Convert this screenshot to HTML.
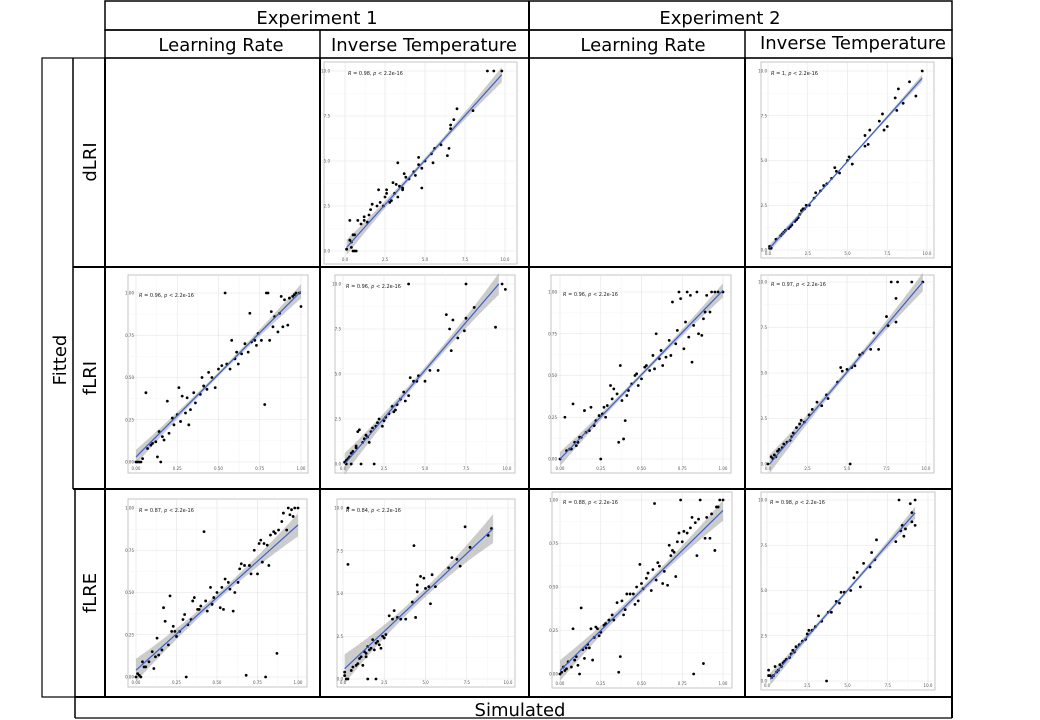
<!DOCTYPE html>
<html><head><meta charset="utf-8">
<style>
html,body{margin:0;padding:0;background:#fff;}
body{width:1040px;height:720px;overflow:hidden;}
svg{display:block;font-family:"DejaVu Sans","Liberation Sans",sans-serif;}
</style></head>
<body>
<svg id="fig" width="1040" height="720" viewBox="0 0 1040 720" xmlns="http://www.w3.org/2000/svg">
<rect x="0" y="0" width="1040" height="720" fill="#fff"/>
<g id="panels"></g>
<g id="frame" fill="none" stroke="#000">
  <rect x="105" y="1" width="847" height="29" stroke-width="1.5"/>
  <line x1="529" y1="1" x2="529" y2="58" stroke-width="2"/>
  <rect x="105" y="30" width="847" height="28" stroke-width="1.5"/>
  <line x1="320" y1="30" x2="320" y2="58" stroke-width="1.5"/>
  <line x1="745" y1="30" x2="745" y2="58" stroke-width="1.5"/>
  <rect x="42" y="58" width="910" height="639" stroke-width="1.2"/>
  <line x1="73" y1="58" x2="73" y2="489" stroke-width="1.5"/>
  <line x1="75" y1="489" x2="75" y2="718" stroke-width="1.5"/>
  <line x1="105" y1="58" x2="105" y2="697" stroke-width="2"/>
  <line x1="320" y1="58" x2="320" y2="697" stroke-width="2"/>
  <line x1="529" y1="58" x2="529" y2="697" stroke-width="2"/>
  <line x1="745" y1="58" x2="745" y2="697" stroke-width="2"/>
  <line x1="952" y1="58" x2="952" y2="718" stroke-width="2"/>
  <line x1="73" y1="267" x2="952" y2="267" stroke-width="2"/>
  <line x1="73" y1="489" x2="952" y2="489" stroke-width="2"/>
  <line x1="75" y1="697" x2="952" y2="697" stroke-width="2"/>
  <line x1="75" y1="718" x2="952" y2="718" stroke-width="1.2"/>
</g>
<g font-size="18" fill="#000" text-anchor="middle">
  <text x="317" y="24">Experiment 1</text>
  <text x="720" y="24">Experiment 2</text>
  <text x="221" y="51">Learning Rate</text>
  <text x="424" y="51">Inverse Temperature</text>
  <text x="643" y="51">Learning Rate</text>
  <text x="853" y="49">Inverse Temperature</text>
  <text transform="translate(96,162) rotate(-90)">dLRI</text>
  <text transform="translate(96,378) rotate(-90)">fLRI</text>
  <text transform="translate(96,593) rotate(-90)">fLRE</text>
  <text transform="translate(66,360) rotate(-90)">Fitted</text>
  <text x="520" y="716">Simulated</text>
</g>
</svg>
<script>
// ---- data (simulated x, fitted y) ----
const ptsA_x=[0.1,0.3,0.4,0.5,0.6,0.7,0.3,0.5,0.6,0.8,1.0,1.2,1.2,1.4,1.5,1.6,1.7,2.1,2.4,2.5,2.6,2.6,2.8,2.9,3.0,3.1,3.2,3.3,3.4,3.6,3.6,3.7,3.8,4.0,4.3,4.4,4.6,4.6,4.8,4.8,5.0,5.4,5.5,5.6,6.0,6.4,6.5,6.6,6.6,6.8,7.0,8.0,8.9,9.3,9.8,3.3,2.2,2.0,0.4];
const ptsA_y=[0.1,0.6,0.2,0,0,0,1.7,0.9,0.9,1.7,1.5,1.7,1.9,1.6,2.0,2.3,2.6,3.4,2.5,3.0,3.4,3.2,2.7,2.8,3.8,3.2,3.7,3.0,3.6,3.5,3.4,4.3,4.1,4.0,4.4,4.2,4.8,5.2,3.5,4.6,5.0,5.4,4.9,5.7,5.9,5.3,5.7,7.0,6.8,7.3,7.9,7.8,10,10,10,4.9,2.7,2.5,0.5];
const ptsB_x=[0.1,0.1,0.2,0.5,0.8,0.9,1.0,1.1,1.3,1.4,1.5,1.7,1.8,1.9,2.0,2.1,2.2,2.3,2.4,2.6,2.9,3.0,3.3,3.5,3.7,4.0,4.2,4.3,4.5,5.0,5.1,5.3,6.1,6.1,6.3,6.4,7.0,7.2,7.3,7.5,8.0,8.1,8.2,8.5,8.9,9.3,9.7];
const ptsB_y=[0.2,0.1,0.1,0.6,0.8,0.9,1.0,1.1,1.2,1.3,1.4,1.6,1.7,1.8,2.0,2.2,2.3,2.3,2.5,2.5,2.9,3.2,3.3,3.6,3.7,4.0,4.6,4.4,4.3,5.0,5.2,4.8,5.8,6.4,5.9,6.7,7.2,7.6,6.7,6.9,8.5,7.8,9.0,8.2,9.4,8.6,10];
const ptsC_x=[0,0.01,0.02,0.03,0.04,0.06,0.07,0.09,0.1,0.12,0.13,0.14,0.15,0.16,0.17,0.19,0.2,0.22,0.23,0.25,0.26,0.27,0.28,0.3,0.31,0.32,0.33,0.35,0.36,0.39,0.4,0.41,0.43,0.44,0.46,0.48,0.5,0.52,0.54,0.55,0.57,0.58,0.6,0.61,0.62,0.64,0.66,0.68,0.69,0.7,0.72,0.73,0.74,0.76,0.78,0.79,0.8,0.81,0.82,0.83,0.84,0.86,0.87,0.88,0.89,0.9,0.92,0.93,0.95,0.96,0.97,0.99,1.0];
const ptsC_y=[0,0,0,0,0.02,0.41,0.08,0.1,0.11,0.12,0.03,0.18,0,0.15,0.13,0.36,0.17,0.26,0.22,0.28,0.44,0.24,0.39,0.29,0.38,0.22,0.31,0.41,0.35,0.4,0.5,0.45,0.43,0.53,0.5,0.44,0.55,0.57,1.0,0.58,0.55,0.72,0.61,0.65,0.58,0.64,0.7,0.65,0.88,0.71,0.72,0.69,0.76,0.72,0.34,1.0,1.0,0.72,0.89,0.8,0.86,0.77,0.88,0.98,0.8,0.96,0.81,0.97,0.98,0.99,1.0,1.0,0.92];
const ptsD_x=[0.1,0.2,0.3,0.4,0.5,0.6,0.5,0.2,0.8,0.8,0.9,1.1,1.0,1.2,1.3,1.4,1.5,1.6,1.7,1.8,1.9,2.0,2.1,2.2,2.4,2.5,2.6,2.8,3.0,3.1,3.2,3.3,3.5,3.7,3.8,4.0,4.1,4.3,4.5,4.6,5.0,5.3,5.8,4.0,6.3,6.5,6.6,6.7,7.0,7.4,7.5,7.5,8.0,9.3,9.7,9.9];
const ptsD_y=[0.1,0.2,0.3,0.4,0.6,0.7,0.0,0,0.9,1.0,1.8,0,1.9,1.2,1.4,1.6,1.5,1.2,1.8,2.0,0,2.1,2.3,2.5,2.1,2.4,2.6,2.8,3.2,2.9,3.0,3.3,3.6,4.0,3.5,3.8,4.8,4.6,4.6,4.9,4.6,5.2,5.2,10,8.3,7.5,6.3,8.0,7.0,7.4,10,8.1,8.7,7.6,10,9.7];
const ptsE_x=[0,0.03,0.04,0.06,0.07,0.08,0.09,0.1,0.11,0.12,0.13,0.15,0.16,0.18,0.19,0.21,0.22,0.24,0.25,0.26,0.27,0.28,0.29,0.31,0.32,0.33,0.35,0.36,0.37,0.38,0.39,0.4,0.41,0.42,0.44,0.46,0.47,0.48,0.5,0.52,0.53,0.55,0.57,0.58,0.59,0.61,0.62,0.63,0.65,0.67,0.68,0.69,0.71,0.72,0.73,0.74,0.76,0.77,0.78,0.79,0.8,0.81,0.82,0.84,0.85,0.87,0.88,0.89,0.9,0.92,0.93,0.95,0.97,1.0];
const ptsE_y=[0,0.25,0.05,0.06,0.06,0.33,0.1,0.08,0.1,0.13,0.13,0.29,0.16,0.17,0.31,0.2,0.23,0.26,0,0.27,0.31,0.25,0.32,0.44,0.36,0.42,0.39,0.1,0.56,0.35,0.12,0.23,0.38,0.41,0.45,0.5,0.51,0.44,0.48,0.55,0.56,0.53,0.62,0.54,0.75,0.6,0.65,0.56,0.61,0.71,0.62,0.94,0.69,0.77,1.0,0.96,0.66,0.82,1.0,0.73,0.98,0.58,0.8,1.0,0.75,0.74,0.84,0.88,0.98,0.88,1.0,1.0,1.0,1.0];
const ptsF_x=[0,0.2,0.3,0.4,0.5,0.6,0.7,0.9,1.0,1.2,1.4,1.5,1.6,1.8,2.0,2.1,2.3,2.6,2.8,3.1,3.4,3.7,3.8,4.4,4.6,4.7,5.0,5.3,5.5,5.8,6.0,6.5,6.7,7.0,7.5,7.6,7.8,8.1,8.1,8.2,9.1,9.8,5.2];
const ptsF_y=[0,0.4,0.3,0.5,0.4,0.7,0.8,0.9,1.1,1.2,1.3,1.5,1.7,2.0,2.2,2.4,2.3,2.7,3.0,3.4,3.2,3.8,3.6,4.5,5.3,5.1,5.2,5.3,5.4,6.0,6.1,6.3,7.2,6.3,8.1,7.6,10,7.8,9.1,10,10,10,0];
const ptsG_x=[0,0.01,0.02,0.03,0.04,0.05,0.06,0.08,0.1,0.11,0.12,0.13,0.14,0.16,0.17,0.18,0.2,0.21,0.22,0.23,0.24,0.25,0.27,0.29,0.3,0.31,0.32,0.34,0.35,0.36,0.38,0.39,0.4,0.42,0.43,0.44,0.46,0.47,0.48,0.5,0.52,0.53,0.54,0.55,0.57,0.58,0.6,0.61,0.63,0.64,0.65,0.67,0.68,0.7,0.71,0.73,0.75,0.76,0.77,0.78,0.79,0.8,0.81,0.82,0.83,0.85,0.86,0.87,0.88,0.9,0.91,0.93,0.94,0.95,0.96,0.97,0.98,1.0];
const ptsG_y=[0,0.02,0.01,0,0.09,0.06,0.06,0.09,0.15,0.05,0.12,0.23,0.13,0.16,0.41,0.33,0.19,0.48,0.27,0.3,0.27,0.24,0.27,0.34,0.37,0,0.31,0.34,0.45,0.47,0.4,0.4,0.42,0.86,0.45,0.39,0.53,0.43,0.47,0.5,0.41,0.53,0.4,0.58,0.56,0.52,0.39,0.5,0.56,0.64,0.67,0.66,0.01,0.66,0.61,0.75,0.61,0.79,0.81,0.68,0.79,0,0.78,0.66,0.84,0.86,0.85,0.14,0.87,0.92,0.97,0.87,1.0,0.96,0.99,0.95,1.0,1.0];
const ptsH_x=[0.1,0.1,0.2,0.3,0.3,0.3,0.5,0.6,0.8,0.9,1.0,1.1,1.2,1.3,1.4,1.4,1.5,1.5,1.6,1.7,1.8,1.9,2.0,2.1,2.2,2.3,2.4,2.5,2.0,2.6,2.8,3.0,3.1,3.3,3.5,3.8,4.2,4.3,4.4,4.5,4.5,4.7,4.9,5.0,5.2,5.3,5.4,5.6,6.4,6.6,6.9,7.1,7.4,7.7,8.8,9.0];
const ptsH_y=[0.4,0.2,0,0,10,6.7,0.5,0.7,0.8,0.9,1.2,1.3,0.8,1.6,1.3,1.5,0,1.9,1.7,1.8,2.3,1.7,2.1,2.2,2.0,1.8,2.5,2.4,0,2.6,3.7,3.5,4.0,3.6,3.5,3.5,4.5,7.8,3.6,5.1,5.5,6.0,5.9,5.3,5.4,4.4,6.1,5.4,6.5,7.1,7.0,6.6,8.9,7.7,8.4,8.8];
const ptsI_x=[0,0.01,0.02,0.03,0.04,0.05,0.07,0.08,0.09,0.1,0.11,0.12,0.13,0.14,0.15,0.16,0.17,0.18,0.19,0.2,0.21,0.22,0.23,0.24,0.25,0.27,0.28,0.3,0.32,0.33,0.35,0.36,0.37,0.38,0.39,0.4,0.41,0.43,0.45,0.46,0.47,0.48,0.49,0.5,0.51,0.53,0.54,0.56,0.57,0.58,0.59,0.6,0.61,0.63,0.64,0.66,0.67,0.68,0.69,0.7,0.71,0.72,0.73,0.75,0.76,0.78,0.8,0.81,0.82,0.83,0.84,0.85,0.86,0.88,0.89,0.9,0.92,0.93,0.95,0.96,0.97,0.98,1.0,0.74];
const ptsI_y=[0,0.01,0.04,0.02,0.03,0.07,0.04,0.26,0.08,0.1,0.05,0,0.38,0.14,0.09,0.15,0.17,0.15,0.26,0.08,0.21,0.27,0.26,0.22,0.24,0.28,0.29,0.31,0.34,0.31,0.41,0.01,0.1,0.42,0.34,0.37,0.46,0.46,0.46,0.4,0.5,0.42,0.63,0.52,0.49,0.55,0.58,0.48,0.6,0.98,0.54,0.64,0.62,0.52,0.59,0.51,0.74,0.68,0.71,0.7,0.56,0.76,0.81,0.76,0.82,0.81,0.84,0.9,0,0.87,0.68,0.89,1.0,0.06,0.78,0.9,0.78,0.92,0.71,0.96,0.96,1.0,1.0,1.0];
const ptsJ_x=[0.1,0.1,0.2,0.3,0.4,0.5,0.6,0.7,0.8,0.9,1.0,1.1,1.2,1.4,1.5,1.6,1.7,1.8,2.0,2.2,2.4,2.5,2.6,2.8,3.0,3.2,3.4,3.7,3.8,4.0,4.3,4.5,4.6,4.8,5.2,5.4,5.6,5.8,6.0,6.4,6.5,6.7,6.8,8.0,8.2,8.3,8.4,8.5,8.6,8.9,9.0,9.2,9.2,9.0];
const ptsJ_y=[0.6,0.3,0.3,0.2,0.3,0.8,0.5,0.6,0.9,0.8,1.0,1.1,1.2,1.3,1.5,1.7,1.6,1.9,2.0,2.2,2.3,2.6,2.8,2.8,3.0,3.6,3.3,0,3.8,3.8,4.4,4.3,4.9,4.9,5.0,5.7,6.0,5.2,6.5,6.3,7.1,6.7,7.8,7.7,10,8.3,8.6,8.0,8.4,9.8,9.3,10,8.6,8.8];
// fit lines: [x0, y0, x1, y1]
const fitA=[0.1,0.2,9.8,9.8], fitB=[0.1,0.1,9.7,9.6], fitC=[0,0.03,1,1.01], fitD=[0.1,0,9.5,10];
const fitE=[0,0,1,1.01], fitF=[0.1,0,9.8,10], fitG=[0,0.04,1,0.9], fitH=[0.1,0.6,9.1,8.8];
const fitI=[0,0.02,1,0.94], fitJ=[0.2,0.1,9.2,9.3];
const rLabels=["0.98","1","0.96","0.96","0.96","0.97","0.87","0.84","0.88","0.98"];
const lrTicks=["0.00","0.25","0.50","0.75","1.00"];
const itTicks=["0.0","2.5","5.0","7.5","10.0"];

// ---- layout (pixel geometry, not data) ----
const panels=[
 {id:"dlri-exp1-inverse-temperature",px:ptsA_x,py:ptsA_y,fit:fitA,r:rLabels[0],max:10,t:itTicks,bx:[324,517],by:[62,264],ax:[345,505],ay:[251,71],rib:0.25},
 {id:"dlri-exp2-inverse-temperature",px:ptsB_x,py:ptsB_y,fit:fitB,r:rLabels[1],max:10,t:itTicks,bx:[761,934],by:[62,258],ax:[768,927],ay:[250,71],rib:0.12},
 {id:"flri-exp1-learning-rate",px:ptsC_x,py:ptsC_y,fit:fitC,r:rLabels[2],max:1,t:lrTicks,bx:[128,308],by:[275,473],ax:[136,301],ay:[462,293],rib:0.025},
 {id:"flri-exp1-inverse-temperature",px:ptsD_x,py:ptsD_y,fit:fitD,r:rLabels[3],max:10,t:itTicks,bx:[335,515],by:[275,473],ax:[343,507],ay:[464,284],rib:0.35},
 {id:"flri-exp2-learning-rate",px:ptsE_x,py:ptsE_y,fit:fitE,r:rLabels[4],max:1,t:lrTicks,bx:[551,731],by:[275,473],ax:[560,723],ay:[459,292],rib:0.025},
 {id:"flri-exp2-inverse-temperature",px:ptsF_x,py:ptsF_y,fit:fitF,r:rLabels[5],max:10,t:itTicks,bx:[761,934],by:[275,473],ax:[768,926],ay:[464,282],rib:0.3},
 {id:"flre-exp1-learning-rate",px:ptsG_x,py:ptsG_y,fit:fitG,r:rLabels[6],max:1,t:lrTicks,bx:[128,307],by:[499,687],ax:[136,298],ay:[677,508],rib:0.04},
 {id:"flre-exp1-inverse-temperature",px:ptsH_x,py:ptsH_y,fit:fitH,r:rLabels[7],max:10,t:itTicks,bx:[337,515],by:[499,687],ax:[343,508],ay:[679,508],rib:0.5},
 {id:"flre-exp2-learning-rate",px:ptsI_x,py:ptsI_y,fit:fitI,r:rLabels[8],max:1,t:lrTicks,bx:[552,732],by:[492,688],ax:[560,723],ay:[674,500],rib:0.035},
 {id:"flre-exp2-inverse-temperature",px:ptsJ_x,py:ptsJ_y,fit:fitJ,r:rLabels[9],max:10,t:itTicks,bx:[761,935],by:[492,690],ax:[767,928],ay:[681,500],rib:0.2}
];
const NS="http://www.w3.org/2000/svg";
const root=document.getElementById("panels");
function mk(tag,attrs,parent){const e=document.createElementNS(NS,tag);for(const k in attrs)e.setAttribute(k,attrs[k]);parent.appendChild(e);return e;}
panels.forEach(p=>{
  const g=mk("g",{},root);
  
  
  const sx=v=>p.ax[0]+(v/p.max)*(p.ax[1]-p.ax[0]);
  const sy=v=>p.ay[0]+(v/p.max)*(p.ay[1]-p.ay[0]);
  mk("rect",{x:p.bx[0],y:p.by[0],width:p.bx[1]-p.bx[0],height:p.by[1]-p.by[0],fill:"#fff",stroke:"#c0c0c0","stroke-width":0.9},g);
  for(let i=0;i<=8;i++){
    const v=i*p.max/8, major=i%2===0;
    mk("line",{x1:sx(v),y1:p.by[0],x2:sx(v),y2:p.by[1],stroke:major?"#e3e3e3":"#f1f1f1","stroke-width":major?0.6:0.4},g);
    mk("line",{x1:p.bx[0],y1:sy(v),x2:p.bx[1],y2:sy(v),stroke:major?"#e3e3e3":"#f1f1f1","stroke-width":major?0.6:0.4},g);
  }
  p.t.forEach((lab,i)=>{
    const v=i*p.max/4;
    const ty=mk("text",{x:p.bx[0]-2+8,y:sy(v)+1.5,"font-size":4,fill:"#555","text-anchor":"end"},g);
    
    
    ty.textContent=lab;
    const tx=mk("text",{x:sx(v),y:p.by[1]-3,"font-size":4,fill:"#555","text-anchor":"middle"},g);
    
    
    tx.textContent=lab;
  });
  const [x0,y0,x1,y1]=p.fit, n=20, up=[], dn=[];
  for(let i=0;i<=n;i++){
    const x=x0+(x1-x0)*i/n, y=y0+(y1-y0)*i/n, d=(i/n-0.5)*2;
    const hw=p.rib*(0.5+1.2*d*d);
    up.push(sx(x)+","+sy(y+hw)); dn.unshift(sx(x)+","+sy(y-hw));
  }
  const rb=mk("polygon",{points:up.concat(dn).join(" "),fill:"#999","fill-opacity":0.5},g);
  
  
  p.px.forEach((x,i)=>{
    const c=mk("circle",{cx:sx(x),cy:sy(p.py[i]),r:1.4,fill:"#000"},g);
    
    
  });
  const ln=mk("line",{x1:sx(x0),y1:sy(y0),x2:sx(x1),y2:sy(y1),stroke:"#3a5fcd","stroke-width":1.2},g);
  
  
  const an=mk("text",{x:sx(0)+3,y:sy(p.max)+4,"font-size":5,fill:"#222"},g);
  
  
  an.innerHTML='<tspan font-style="italic">R</tspan> = '+p.r+', <tspan font-style="italic">p</tspan> &lt; 2.2e-16';
});
</script>
</body></html>
